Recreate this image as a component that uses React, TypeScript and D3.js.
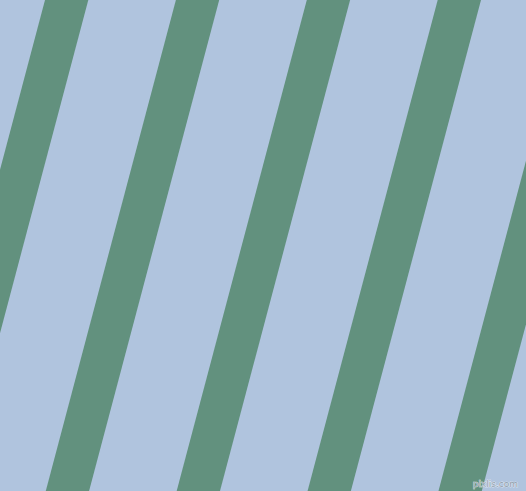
import React from "react";
import * as d3 from "d3";

// stripe pattern values
const stripeIndex = [-1, 0, 1, 2, 3, 4, 5];
const stripeOffset = 45; // left edge of the first green band at the top
const stripePeriod = 130.9;
const stripeWidth = 43.3;
const slope = 0.265; // horizontal drift per vertical px
const colors = { background: "#b0c4de", stripe: "#62917e" };
const watermark = "pixlis.com";

const W = 526;
const H = 491;

function StripeChart() {
  // index -> x at the top edge
  const xScale = d3
    .scaleLinear()
    .domain([0, 1])
    .range([stripeOffset, stripeOffset + stripePeriod]);

  const yScale = d3.scaleLinear().domain([0, 1]).range([0, H]);

  const line = d3.line<[number, number]>();

  const band = (i: number) => {
    const x0 = xScale(i);
    const drift = slope * H;
    const pts: [number, number][] = [
      [x0, yScale(0)],
      [x0 + stripeWidth, yScale(0)],
      [x0 + stripeWidth - drift, yScale(1)],
      [x0 - drift, yScale(1)]
    ];
    return line(pts) + "Z";
  };

  return (
    <svg
      width={W}
      height={H}
      style={{ position: "fixed", top: 0, left: 0, display: "block" }}
    >
      <rect width={W} height={H} fill={colors.background} />
      {stripeIndex.map(i => (
        <path key={i} d={band(i)} fill={colors.stripe} />
      ))}
      <text
        x={W - 8}
        y={H - 4}
        textAnchor="end"
        fontFamily="DejaVu Sans, sans-serif"
        fontSize={9}
        fill="#8a9aa8"
        stroke="#ffffff"
        strokeWidth={0.6}
        paintOrder="stroke"
      >
        {watermark}
      </text>
    </svg>
  );
}

export default function App() {
  return <StripeChart />;
}
